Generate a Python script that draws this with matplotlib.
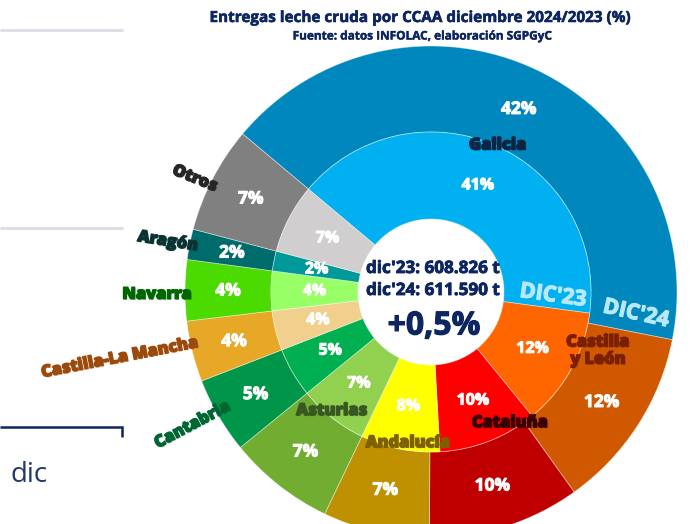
import numpy as np
import matplotlib
matplotlib.use("Agg")
import matplotlib.pyplot as plt
import matplotlib.patheffects as pe

# ---------------- data ----------------
regions = ["Galicia", "Castilla\ny León", "Cataluña", "Andalucía", "Asturias",
           "Cantabria", "Castilla-La Mancha", "Navarra", "Aragón", "Otros"]
share_dic24 = [42, 12, 10, 7, 7, 5, 4, 4, 2, 7]
share_dic23 = [41, 12, 10, 8, 7, 5, 4, 4, 2, 7]
total_dic23 = "608.826"
total_dic24 = "611.590"
variation = "+0,5%"

# ---------------- style ----------------
outer_colors = ['#0088BE', '#D05800', '#C00000', '#BF9000', '#70AD30',
                '#00964A', '#E6A826', '#4CDB00', '#006B6B', '#808080']
inner_colors = ['#00B0F0', '#FF6600', '#FF0000', '#FFFF00', '#92D050',
                '#00B050', '#F0D08C', '#99FF66', '#009999', '#D0CECE']
label_colors = ['#0B2545', '#7A2000', '#3A0000', '#7F6000', '#385723',
                '#006633', '#9C4A0C', '#006600', '#0A3333', '#262626']
# name label placement (angle deg, radius px, rotation deg)
label_place = [(65.5, 161, 0), (-19.5, 177, 0), (-59, 153, 0), (-98.7, 153, 0),
               (-129.8, 155, 0), (-150.8, 273, 28), (-168, 318, 11),
               (180.6, 274, 0), (169.2, 268, -9), (154.4, 262, -22)]

W, H = 696, 524
CX, CY = 431, H - 292
R_OUT, R_MID, R_IN = 246, 160, 73
START = 140

FONT = ['Open Sans', 'DejaVu Sans']
NAVY = '#0D2560'


def thick(col, lw=0.6):
    return [pe.withStroke(linewidth=lw, foreground=col)]


fig = plt.figure(figsize=(W / 100, H / 100), dpi=100)
ax = fig.add_axes([0, 0, 1, 1])

wp = dict(edgecolor=(1, 1, 1, 0.45), linewidth=0.6)
ax.pie(share_dic24, radius=R_OUT, center=(CX, CY), startangle=START,
       counterclock=False, colors=outer_colors,
       wedgeprops=dict(width=R_OUT - R_MID, **wp))
ax.pie(share_dic23, radius=R_MID, center=(CX, CY), startangle=START,
       counterclock=False, colors=inner_colors,
       wedgeprops=dict(width=R_MID - R_IN, **wp))

ax.set_xlim(0, W)
ax.set_ylim(0, H)
ax.set_aspect('equal')
ax.axis('off')


def mids(vals):
    c = np.cumsum([0] + list(vals))
    return [START - 360 * (c[i] + vals[i] / 2) / 100 for i in range(len(vals))]


def polar(a, r):
    return CX + r * np.cos(np.radians(a)), CY + r * np.sin(np.radians(a))


for a, v in zip(mids(share_dic24), share_dic24):
    x, y = polar(a, 203)
    ax.text(x, y, f"{v}%", ha='center', va='center', color='white',
            fontsize=12.5, fontweight='bold', family=FONT,
            path_effects=thick('white', 0.7))
for a, v in zip(mids(share_dic23), share_dic23):
    x, y = polar(a, 116.5)
    ax.text(x, y, f"{v}%", ha='center', va='center', color='white',
            fontsize=11.5, fontweight='bold', family=FONT,
            path_effects=thick('white', 0.7))

for name, col, (a, r, rot) in zip(regions, label_colors, label_place):
    x, y = polar(a, r)
    ax.text(x, y, name, ha='center', va='center', color=col, rotation=rot,
            fontsize=11.8, fontweight='heavy', family=FONT, linespacing=1.1,
            path_effects=[pe.withSimplePatchShadow(offset=(0.8, -0.8), shadow_rgbFace=col, alpha=0.25),
                          pe.withStroke(linewidth=1.0, foreground=col)])

# ring labels
ax.text(553, H - 296, "DIC'23", rotation=-8, ha='center', va='center',
        color='#B8E8FC', fontsize=15.5, fontweight='bold', family=FONT,
        path_effects=thick('#B8E8FC', 0.9))
ax.text(636, H - 314, "DIC'24", rotation=-12.5, ha='center', va='center',
        color='#B8E8FC', fontsize=15.5, fontweight='bold', family=FONT,
        path_effects=thick('#B8E8FC', 0.9))

# centre texts
ax.text(433, H - 268, f"dic'23: {total_dic23} t", ha='center', va='center',
        color=NAVY, fontsize=12.3, fontweight='bold', family=FONT,
        path_effects=thick(NAVY, 0.6))
ax.text(433, H - 290, f"dic'24: {total_dic24} t", ha='center', va='center',
        color=NAVY, fontsize=12.3, fontweight='bold', family=FONT,
        path_effects=thick(NAVY, 0.6))
ax.text(434, H - 326, variation, ha='center', va='center',
        color=NAVY, fontsize=23, fontweight='bold', family=FONT,
        path_effects=thick(NAVY, 0.8))

# title
ax.text(420, H - 18, "Entregas leche cruda por CCAA diciembre 2024/2023 (%)",
        ha='center', va='center', color=NAVY, fontsize=11,
        fontweight='bold', family=FONT, path_effects=thick(NAVY, 0.4))
ax.text(421, H - 36, "Fuente: datos INFOLAC, elaboración SGPGyC",
        ha='center', va='center', color=NAVY, fontsize=8.5,
        fontweight='bold', family=FONT, path_effects=thick(NAVY, 0.3))

# slide remnants on the left
ax.plot([0, 123], [H - 30, H - 30], color='#DCDCE6', lw=2, solid_capstyle='butt')
ax.plot([0, 123], [H - 228, H - 228], color='#DCDCE6', lw=2, solid_capstyle='butt')
ax.plot([0, 122, 122], [H - 427, H - 427, H - 437], color='#0D2560', lw=1.8,
        solid_capstyle='butt', solid_joinstyle='miter')
ax.text(10, H - 475, "dic", ha='left', va='center', color='#1F3864',
        fontsize=20, family=FONT)

fig.savefig("out.png", dpi=100)
